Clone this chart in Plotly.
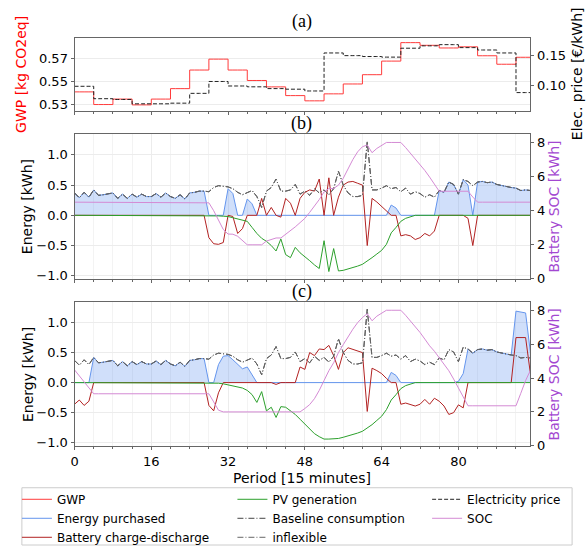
import numpy as np
import plotly.graph_objects as go

W, H = 588, 553
def fx(x): return x / W
def fy(y): return 1 - y / H

periods = list(range(96))

# ---------------- panel (a): hourly values ----------------
gwp_hourly = [0.5412, 0.5303, 0.535, 0.530, 0.535, 0.544, 0.560, 0.5694, 0.560, 0.551, 0.5455, 0.538,
              0.5335, 0.5395, 0.548, 0.556, 0.5677, 0.5836, 0.5813, 0.579, 0.580, 0.5723, 0.565, 0.571]
price_hourly = [0.0989, 0.078, 0.0767, 0.0694, 0.0694, 0.0705, 0.087, 0.107, 0.0994, 0.098, 0.095, 0.094,
                0.091, 0.155, 0.1505, 0.149, 0.148, 0.163, 0.167, 0.169, 0.164, 0.160, 0.155, 0.0883]
gwp = np.repeat(gwp_hourly, 4)
price = np.repeat(price_hourly, 4)

# ---------------- consumption (same in b and c) ----------------
baseline = [0.37, 0.29, 0.38, 0.30, 0.42, 0.33, 0.34, 0.35, 0.37, 0.28, 0.35, 0.28,
            0.35, 0.30, 0.35, 0.31, 0.31, 0.36, 0.30, 0.37, 0.31, 0.28, 0.34, 0.27,
            0.37, 0.38, 0.40, 0.40, 0.39, 0.46, 0.49, 0.48, 0.47, 0.44, 0.38, 0.34,
            0.38, 0.41, 0.31, 0.13, 0.40, 0.46, 0.60, 0.40, 0.40, 0.42, 0.51, 0.35,
            0.40, 0.33, 0.44, 0.37, 0.42, 0.34, 0.44, 0.73, 0.50, 0.37, 0.31, 0.31,
            0.33, 1.22, 0.42, 0.42, 0.45, 0.49, 0.44, 0.46, 0.39, 0.45, 0.35, 0.39,
            0.36, 0.30, 0.34, 0.30, 0.41, 0.38, 0.55, 0.51, 0.35, 0.59, 0.56, 0.49,
            0.55, 0.56, 0.54, 0.55, 0.51, 0.49, 0.48, 0.46, 0.45, 0.41, 0.42, 0.41]
inflexible = list(baseline)

# ---------------- panel (b) ----------------
purchased_b = baseline[:28] + [0, 0, 0, 0, 0.44, 0.36, 0, 0, 0.27, 0.19] + [0] * 28 + \
              [0.17, 0.12] + [0] * 8 + [0.41, 0.38, 0.55, 0.51, 0.35, 0.59, 0.50, 0] + baseline[84:]
battery_b = [0] * 28 + [-0.37, -0.47, -0.48, -0.45, 0, -0.02, -0.30, -0.22, 0, 0, 0, 0.28,
                        0, 0.13, 0, -0.03, 0.28, 0.20, 0, 0.28, 0.38, 0.42, 0.40, 0.60,
                        0, 0.62, 0, 0.30, 0.50, 0.55, 0.56, 0.53, 0.50, -0.50, 0.28, 0.22,
                        0.15, 0.07, 0, 0, -0.34, -0.32, -0.34, -0.40, -0.37, -0.30, -0.34, -0.26,
                        0, 0, 0, 0, 0, 0, -0.05, -0.50] + [0] * 12
pv_b = [0] * 30 + [-0.01, -0.015, -0.02, -0.04, -0.06, -0.08, -0.10, -0.20, -0.30, -0.38,
                   -0.43, -0.50, -0.59, -0.39, -0.65, -0.70, -0.53, -0.62, -0.68, -0.75,
                   -0.82, -0.88, -0.42, -0.93, -0.55, -0.92, -0.91, -0.89, -0.87, -0.84,
                   -0.81, -0.76, -0.70, -0.64, -0.58, -0.48, -0.29, -0.20, -0.10, -0.05,
                   -0.02] + [0] * 25
soc_b = [4.5] * 28 + [4.46, 4.0, 3.4, 2.9, 2.63, 2.62, 2.5, 2.25, 2.0, 2.0, 2.0, 2.0,
                      2.22, 2.3, 2.4, 2.4, 2.6, 2.8, 3.05, 3.3, 3.55, 3.9, 4.25, 4.65,
                      5.1, 5.3, 5.3, 5.5, 5.9, 6.45, 7.0, 7.45, 7.75, 7.85, 7.4, 7.65,
                      7.85, 8.0, 8.0, 8.0, 8.0, 7.7, 7.38, 7.03, 6.69, 6.36, 5.97, 5.58,
                      5.14, 5.14, 5.14, 5.14, 5.14, 5.14, 5.14, 4.8] + [4.5] * 12

# ---------------- panel (c) ----------------
purchased_c = [0, 0, 0, 0] + baseline[4:28] + [0, 0, 0.30, 0.44, 0.45, 0.38, 0.30, 0.23, 0.26, 0.13] + \
              [0] * 28 + [0.17, 0.12] + [0] * 12 + [0.02, 0.15] + baseline[82:92] + [1.19, 1.17, 1.16, 0.50]
battery_c = [-0.36, -0.29, -0.38, -0.31] + [0] * 24 + \
            [-0.38, -0.47, -0.17, 0, 0, 0, 0, 0, 0, 0, 0, 0, 0, 0, -0.03, 0, 0, 0, 0,
             0.26, 0.22, 0.50, 0.45, 0.56, 0.55, 0.62, 0.45, 0.22, 0.50, 0.58, 0.55, 0.52,
             0.50, -0.48, 0.24, 0.20, 0.15, 0.07, 0, 0, -0.36, -0.34, -0.36, -0.39, -0.36,
             -0.28, -0.36, -0.26, -0.31, -0.39, -0.53, -0.50, -0.37, -0.42] + [0] * 10 + \
            [0.75, 0.75, 0.75, 0.15]
pv_c = [0] * 30 + [-0.01, -0.02, -0.04, -0.06, -0.08, -0.09, -0.13, -0.20, -0.33, -0.15,
                   -0.47, -0.41, -0.58, -0.40, -0.41, -0.47, -0.53, -0.61, -0.69, -0.77,
                   -0.85, -0.90, -0.94, -0.94, -0.94, -0.93, -0.91, -0.89, -0.87, -0.84,
                   -0.81, -0.76, -0.70, -0.63, -0.56, -0.45, -0.29, -0.20, -0.10, -0.05,
                   -0.02] + [0] * 25
soc_c = [4.48, 4.13, 3.79, 3.4] + [3.07] * 25 + [2.59, 2.1] + [2.0] * 17 + \
        [2.2, 2.43, 2.78, 3.27, 3.85, 4.43, 4.9, 5.5, 5.97, 6.45, 6.88, 7.27, 7.57, 7.8,
         7.38, 7.65, 7.85, 8.0, 8.0, 8.0, 8.0, 7.7, 7.38, 7.03, 6.69, 6.3, 5.9, 5.58, 5.2,
         4.81, 4.43, 3.94, 3.4, 2.88] + [2.36] * 11 + [3.1, 3.85, 4.45]

x_ticks = [0, 16, 32, 48, 64, 80]

# ---------------- styles ----------------
C_GWP = "#ff3b3b"
C_BLUE = "#6495ed"
C_FILL = "rgba(100,149,237,0.30)"
C_BATT = "#b22222"
C_PV = "#2ca02c"
C_SOC = "#d48ad4"
C_SOC_LABEL = "#a347d1"
DASH = "4px,2px"
DASHDOT = "6px,2px,1px,2px"

fig = go.Figure()

# panel (a)
fig.add_trace(go.Scatter(x=periods, y=gwp, name="GWP", mode="lines", line_shape="hv",
                         line=dict(color=C_GWP, width=1), xaxis="x", yaxis="y", legend="legend"))
fig.add_trace(go.Scatter(x=periods, y=price, name="Electricity price", mode="lines", line_shape="hv",
                         line=dict(color="#222222", width=1, dash=DASH), xaxis="x", yaxis="y2",
                         legend="legend3"))

def energy_panel(xa, ya, ya2, purchased, battery, pv, soc, show):
    # filled area (no legend) and its outline (legend entry as a line)
    fig.add_trace(go.Scatter(x=periods, y=purchased, mode="lines", fill="tozeroy",
                             fillcolor=C_FILL, line=dict(width=0), hoverinfo="skip",
                             xaxis=xa, yaxis=ya, showlegend=False))
    fig.add_trace(go.Scatter(x=periods, y=purchased, name="Energy purchased", mode="lines",
                             line=dict(color=C_BLUE, width=1),
                             xaxis=xa, yaxis=ya, showlegend=show, legend="legend"))
    fig.add_trace(go.Scatter(x=periods, y=battery, name="Battery charge-discharge", mode="lines",
                             line=dict(color=C_BATT, width=1), xaxis=xa, yaxis=ya,
                             showlegend=show, legend="legend"))
    fig.add_trace(go.Scatter(x=periods, y=pv, name="PV generation", mode="lines",
                             line=dict(color=C_PV, width=1), xaxis=xa, yaxis=ya,
                             showlegend=show, legend="legend2"))
    fig.add_trace(go.Scatter(x=periods, y=baseline, name="Baseline consumption", mode="lines",
                             line=dict(color="#444444", width=1, dash=DASHDOT), xaxis=xa, yaxis=ya,
                             showlegend=show, legend="legend2"))
    fig.add_trace(go.Scatter(x=periods, y=inflexible, name="inflexible", mode="lines",
                             line=dict(color="#666666", width=1, dash=DASHDOT), xaxis=xa, yaxis=ya,
                             showlegend=show, legend="legend2"))
    fig.add_trace(go.Scatter(x=periods, y=soc, name="SOC", mode="lines",
                             line=dict(color=C_SOC, width=1), xaxis=xa, yaxis=ya2,
                             showlegend=show, legend="legend3"))

energy_panel("x2", "y3", "y4", purchased_b, battery_b, pv_b, soc_b, False)
energy_panel("x3", "y5", "y6", purchased_c, battery_c, pv_c, soc_c, True)

XDOM = [fx(71), fx(530)]
DOM_A = [fy(112), fy(38)]
DOM_B = [fy(283), fy(136)]
DOM_C = [fy(452), fy(306)]
LINE_C = "#666666"
GRID_C = "#ececec"

def xaxis(anchor, labels, grid):
    return dict(domain=XDOM, anchor=anchor, range=[0, 95], tickmode="array", tickvals=x_ticks,
                showticklabels=labels, ticks="outside", ticklen=3, tickcolor=LINE_C,
                showline=True, mirror=True, linecolor=LINE_C, linewidth=1,
                showgrid=grid, gridcolor=GRID_C, zeroline=False,
                minor=dict(tick0=0, dtick=4, ticks="outside", ticklen=2, tickcolor=LINE_C,
                           showgrid=grid, gridcolor="#f3f3f3"))

def yleft(dom, anchor, rng, vals, fmt):
    return dict(domain=dom, anchor=anchor, range=rng, tickmode="array", tickvals=vals,
                tickformat=fmt, ticks="outside", ticklen=3, tickcolor=LINE_C,
                showline=True, mirror=True, linecolor=LINE_C, linewidth=1,
                showgrid=True, gridcolor=GRID_C, zeroline=False)

def yright(over, anchor, rng, vals, fmt):
    return dict(overlaying=over, anchor=anchor, side="right", range=rng, tickmode="array",
                tickvals=vals, tickformat=fmt, ticks="outside", ticklen=3, tickcolor=LINE_C,
                showline=False, showgrid=False, zeroline=False)

E_RANGE = [-1.06, 1.34]
S_RANGE = [-0.03, 8.48]
E_TICKS = [-1.0, -0.5, 0.0, 0.5, 1.0]
S_TICKS = [0, 2, 4, 6, 8]

annotations = []
def ann(text, x, y, size, color="black", angle=0, family="DejaVu Sans"):
    annotations.append(dict(text=text, x=fx(x), y=fy(y), xref="paper", yref="paper",
                            showarrow=False, textangle=angle, xanchor="center", yanchor="middle",
                            font=dict(size=size, color=color, family=family)))

ann("(a)", 300, 22, 18, family="Liberation Serif")
ann("(b)", 300, 125, 18, family="Liberation Serif")
ann("(c)", 300, 295, 18, family="Liberation Serif")
ann("GWP [kg CO2eq]", 17, 75, 14, color="#ff0000", angle=-90)
ann("Elec. price [€/kWh]", 577, 75, 14, angle=-90)
ann("Energy [kWh]", 24, 209, 14, angle=-90)
ann("Energy [kWh]", 24, 379, 14, angle=-90)
ann("Battery SOC [kWh]", 554, 209, 14, color=C_SOC_LABEL, angle=-90)
ann("Battery SOC [kWh]", 554, 379, 14, color=C_SOC_LABEL, angle=-90)
ann("Period [15 minutes]", 300, 484, 14)

leg_common = dict(yanchor="top", xanchor="left", y=fy(491), bgcolor="rgba(0,0,0,0)",
                  font=dict(size=12, family="DejaVu Sans"), tracegroupgap=0, itemwidth=30,
                  orientation="v")

fig.update_layout(
    width=W, height=H, margin=dict(l=0, r=0, t=0, b=0),
    paper_bgcolor="white", plot_bgcolor="white",
    font=dict(family="DejaVu Sans", size=13, color="black"),
    xaxis=xaxis("y", False, False),
    xaxis2=xaxis("y3", False, True),
    xaxis3=xaxis("y5", True, True),
    yaxis=yleft(DOM_A, "x", [0.5251, 0.588], [0.53, 0.55, 0.57], ".2f"),
    yaxis2=yright("y", "x", [0.058, 0.181], [0.10, 0.15], ".2f"),
    yaxis3=yleft(DOM_B, "x2", E_RANGE, E_TICKS, ".1f"),
    yaxis4=yright("y3", "x2", S_RANGE, S_TICKS, "d"),
    yaxis5=yleft(DOM_C, "x3", E_RANGE, E_TICKS, ".1f"),
    yaxis6=yright("y5", "x3", S_RANGE, S_TICKS, "d"),
    legend=dict(x=fx(13), **leg_common),
    legend2=dict(x=fx(230), **leg_common),
    legend3=dict(x=fx(426), **leg_common),
    annotations=annotations,
    shapes=[dict(type="rect", xref="paper", yref="paper", x0=fx(18), x1=fx(572),
                 y0=fy(552), y1=fy(494), line=dict(color="#cccccc", width=1),
                 fillcolor="rgba(0,0,0,0)", layer="below")],
    showlegend=True,
)

fig.write_html("out.html")
